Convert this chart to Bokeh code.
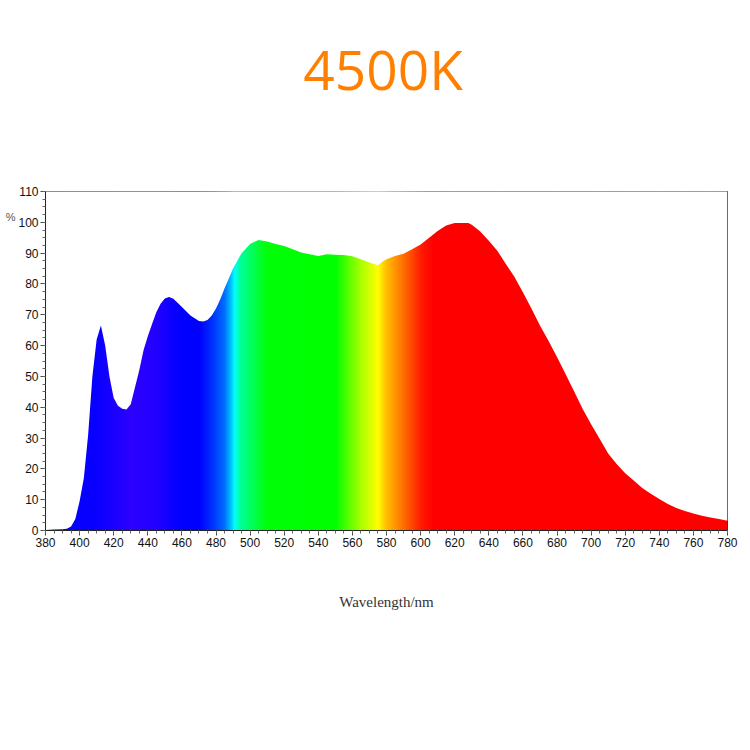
import numpy as np
from bokeh.plotting import figure
from bokeh.models import (Range1d, SingleIntervalTicker, FixedTicker, LinearAxis,
                          CustomJSTickFormatter, ColumnDataSource)
from bokeh.embed import file_html
from bokeh.resources import INLINE

# ---- data (wavelength nm, relative intensity %) ----
wavelength = [380, 385, 390, 392.5, 395, 397.5, 400, 402.5, 405, 407.5, 410, 412.5,
              415, 417.5, 420, 422.5, 425, 427.5, 430, 432.5, 435, 437.5, 440, 442.5,
              445, 447.5, 450, 452.5, 455, 460, 465, 470, 472.5, 475, 477.5, 480,
              482.5, 485, 490, 495, 500, 505, 510, 515, 520, 525, 530, 535, 540,
              545, 550, 555, 560, 565, 570, 575, 578, 580, 585, 590, 595, 600, 605,
              610, 615, 620, 625, 628, 630, 635, 640, 645, 650, 655, 660, 665, 670,
              675, 680, 685, 690, 695, 700, 705, 710, 715, 720, 725, 730, 735, 740,
              745, 750, 755, 760, 765, 770, 775, 780]
intensity = [0.2, 0.3, 0.4, 0.6, 1.3, 3.7, 9.5, 17, 31, 50, 62, 66.5,
             60, 50, 43, 40.5, 39.5, 39.3, 41, 46.5, 52, 58.5, 63, 67,
             70.8, 73.6, 75.3, 75.8, 75.2, 72.5, 69.8, 68, 67.8, 68.3, 69.8, 72,
             75, 78.5, 85, 90, 93, 94.3, 93.8, 93, 92.3, 91.3, 90.2, 89.6, 89.1,
             89.6, 89.5, 89.4, 89, 88, 87, 86.1, 87.4, 88, 89.1, 89.8, 91.3, 92.8, 95,
             97.2, 99, 99.8, 99.8, 99.8, 99.2, 97, 94, 90.8, 86.5, 82.3, 77.3, 72, 66.5,
             61.6, 56.3, 50.8, 45.2, 39.5, 34.5, 29.8, 25, 21.6, 18.6, 16.2, 13.8, 11.9, 10.2,
             8.6, 7.3, 6.3, 5.5, 4.8, 4.2, 3.7, 3.2]

title_text = "4500K"
title_center = [578]          # wavelength under which the heading is centred
x_label = "Wavelength/nm"
y_unit = "%"
y_unit_level = [101.6]

# ---- spectral colour stops used for the fill gradient (styling) ----
stop_wl = [380, 410, 430, 445, 460, 470, 478, 485, 489, 491, 494, 500, 510, 550,
           565, 575, 580, 590, 600, 608, 780]
stop_r = [0, 10, 45, 35, 0, 0, 0, 0, 0, 0, 0, 0, 0, 0, 170, 255, 255, 255, 255, 255, 255]
stop_g = [0, 0, 0, 0, 0, 0, 50, 110, 200, 255, 255, 255, 255, 255, 255, 255, 190, 110, 30, 0, 0]
stop_b = [255, 255, 255, 255, 255, 255, 255, 255, 255, 255, 160, 100, 10, 0, 0, 0, 0, 0, 0, 0, 0]

xmin, xmax = 380, 780
ymin, ymax = 0, 110

p = figure(width=750, height=750, output_backend="svg", toolbar_location=None,
           x_range=Range1d(xmin, xmax), y_range=Range1d(ymin, ymax),
           min_border_left=45, min_border_right=23, min_border_top=191,
           min_border_bottom=220, background_fill_color="white",
           border_fill_color="white")
p.title.visible = False

# gradient strips (overlapping so no seams show)
step = 0.5
left = np.arange(xmin, xmax, step)
mid = left + step / 2
r = np.interp(mid, stop_wl, stop_r).astype(int)
g = np.interp(mid, stop_wl, stop_g).astype(int)
b = np.interp(mid, stop_wl, stop_b).astype(int)
colors = ["#%02x%02x%02x" % (rr, gg, bb) for rr, gg, bb in zip(r, g, b)]
strips = ColumnDataSource(dict(left=left, right=np.minimum(left + step * 3.5, xmax),
                               bottom=np.full(len(left), ymin),
                               top=np.full(len(left), ymax), color=colors))
p.quad(left="left", right="right", bottom="bottom", top="top", fill_color="color",
       line_color=None, source=strips)

# white mask above the measured curve
mask_x = list(wavelength) + [xmax, xmin]
mask_y = list(intensity) + [ymax + 5, ymax + 5]
p.patch(mask_x, mask_y, fill_color="white", line_color=None)

# axes / frame
p.xgrid.visible = False
p.ygrid.visible = False
p.outline_line_color = "#222222"
p.outline_line_width = 1

p.xaxis.ticker = SingleIntervalTicker(interval=20, num_minor_ticks=4)
p.yaxis.ticker = SingleIntervalTicker(interval=10, num_minor_ticks=4)
for ax in (p.xaxis[0], p.yaxis[0]):
    ax.axis_line_color = "#222222"
    ax.major_tick_line_color = "#444444"
    ax.minor_tick_line_color = "#666666"
    ax.major_tick_out = 5
    ax.major_tick_in = 0
    ax.minor_tick_out = 3
    ax.minor_tick_in = 0
    ax.major_label_text_font = "Liberation Sans"
    ax.major_label_text_font_size = "12px"
    ax.major_label_text_color = "#111111"
    ax.major_label_standoff = 2
p.yaxis.axis_label_standoff = 0

p.xaxis.axis_label = x_label
p.xaxis.axis_label_text_font = "Liberation Serif"
p.xaxis.axis_label_text_font_size = "15px"
p.xaxis.axis_label_text_font_style = "normal"
p.xaxis.axis_label_text_color = "#333333"
p.xaxis.axis_label_standoff = 44

# "%" unit marker at the top-left, drawn as a tick label of a bare extra axis
unit_axis = LinearAxis(ticker=FixedTicker(ticks=y_unit_level, minor_ticks=[]),
                       formatter=CustomJSTickFormatter(code="return '%s';" % y_unit),
                       axis_line_color=None, major_tick_line_color=None,
                       minor_tick_line_color=None, major_tick_out=0, major_tick_in=0,
                       major_label_standoff=0, axis_label_standoff=0,
                       major_label_text_font="Liberation Sans",
                       major_label_text_font_size="11px",
                       major_label_text_color="#555555")
p.add_layout(unit_axis, "left")

# heading "4500K", drawn as the single label of a bare axis above the frame
head_axis = LinearAxis(ticker=FixedTicker(ticks=title_center, minor_ticks=[]),
                       formatter=CustomJSTickFormatter(code="return '%s';" % title_text),
                       axis_line_color=None, major_tick_line_color=None,
                       minor_tick_line_color=None, major_tick_out=0, major_tick_in=0,
                       major_label_standoff=86, axis_label_standoff=0,
                       major_label_text_font="Open Sans",
                       major_label_text_font_size="55px",
                       major_label_text_color="#ff8000")
p.add_layout(head_axis, "above")

open("out.html", "w").write(file_html(p, INLINE))
